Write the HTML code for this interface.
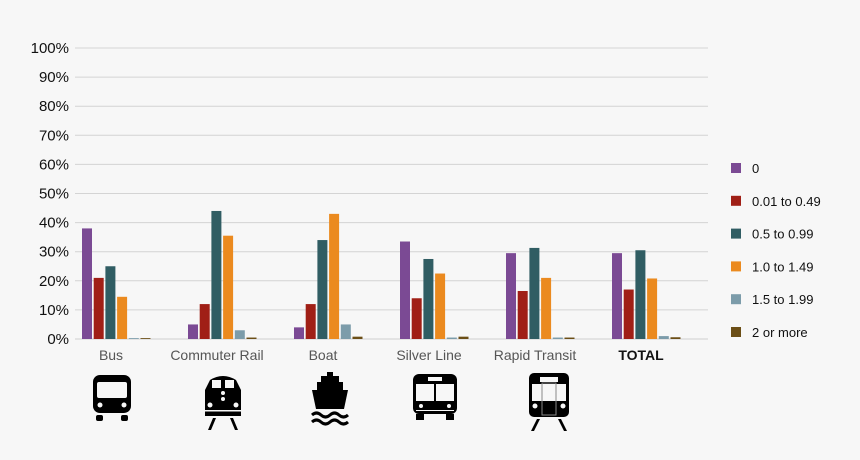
<!DOCTYPE html>
<html><head><meta charset="utf-8"><style>
body{margin:0;background:#f7f7f7;}
svg{display:block;font-family:"Liberation Sans",sans-serif;}
</style></head><body>
<svg id="c" width="860" height="460">
<rect width="860" height="460" fill="#f7f7f7"/>
<g id="grid"></g><g id="bars"></g><g id="labels"></g><g id="legend"></g>
<g fill="#000">
 <g transform="translate(93,375)">
  <rect x="0" y="0" width="38" height="38" rx="7"/><rect x="3" y="40" width="7" height="6" rx="2"/><rect x="28" y="40" width="7" height="6" rx="2"/>
  <rect x="4" y="7" width="30" height="16" rx="2" fill="#f7f7f7"/><circle cx="7" cy="30" r="2.5" fill="#f7f7f7"/><circle cx="31" cy="30" r="2.5" fill="#f7f7f7"/>
 </g>
 <g transform="translate(204,372)">
  <path d="M6 8 Q19 0 32 8 L37 18 L37 44 L1 44 L1 18 Z"/><rect x="8" y="8" width="9" height="8" fill="#f7f7f7"/><rect x="21" y="8" width="9" height="8" fill="#f7f7f7"/>
  <circle cx="19" cy="21" r="2" fill="#f7f7f7"/><circle cx="19" cy="27" r="2" fill="#f7f7f7"/><circle cx="6" cy="33" r="2.5" fill="#f7f7f7"/><circle cx="32" cy="33" r="2.5" fill="#f7f7f7"/>
  <rect x="1" y="38" width="36" height="1.5" fill="#f7f7f7"/><path d="M4 58 L9 46 L12 46 L7 58 Z M34 58 L29 46 L26 46 L31 58 Z"/>
 </g>
 <g transform="translate(311,372)">
  <rect x="16" y="0" width="6" height="4"/><rect x="10" y="4" width="18" height="6"/><rect x="6" y="10" width="26" height="8"/><path d="M1 18 L37 18 L33 37 L5 37 Z"/>
  <path d="M1 43 Q5.5 39 10 43 Q14.5 47 19 43 Q23.5 39 28 43 Q32.5 47 37 43" fill="none" stroke="#000" stroke-width="3"/>
  <path d="M1 50 Q5.5 46 10 50 Q14.5 54 19 50 Q23.5 46 28 50 Q32.5 54 37 50" fill="none" stroke="#000" stroke-width="3"/>
 </g>
 <g transform="translate(413,374)">
  <rect x="0" y="0" width="44" height="40" rx="6"/><rect x="3" y="40" width="8" height="6"/><rect x="33" y="40" width="8" height="6"/>
  <rect x="15" y="3" width="14" height="4" fill="#f7f7f7"/><rect x="3" y="10" width="18" height="17" fill="#f7f7f7"/><rect x="23" y="10" width="18" height="17" fill="#f7f7f7"/>
  <circle cx="8" cy="32" r="2" fill="#f7f7f7"/><circle cx="36" cy="32" r="2" fill="#f7f7f7"/><rect x="3" y="36" width="38" height="1" fill="#f7f7f7"/>
 </g>
 <g transform="translate(529,373)">
  <rect x="0" y="0" width="40" height="44" rx="5"/><rect x="11" y="4" width="18" height="5" fill="#f7f7f7"/><rect x="3" y="11" width="34" height="17" fill="#f7f7f7"/>
  <rect x="13" y="10" width="14" height="32" fill="none" stroke="#888" stroke-width="1"/><circle cx="6" cy="33" r="2.5" fill="#f7f7f7"/><circle cx="34" cy="33" r="2.5" fill="#f7f7f7"/>
  <path d="M2 58 L8 46 L11 46 L5 58 Z M38 58 L32 46 L29 46 L35 58 Z"/>
 </g>
</g>
</svg>
<script>
const categories=["Bus","Commuter Rail","Boat","Silver Line","Rapid Transit","TOTAL"];
const seriesNames=["0","0.01 to 0.49","0.5 to 0.99","1.0 to 1.49","1.5 to 1.99","2 or more"];
const s0=[38,5,4,33.5,29.5,29.5];
const s1=[21,12,12,14,16.5,17];
const s2=[25,44,34,27.5,31.3,30.5];
const s3=[14.5,35.5,43,22.5,21,20.8];
const s4=[0.3,3,5,0.5,0.5,1];
const s5=[0.3,0.5,0.8,0.8,0.5,0.6];
const yTicks=["0%","10%","20%","30%","40%","50%","60%","70%","80%","90%","100%"];
const colors=["#7B4A94","#A01F16","#305D63","#EB8A1F","#7C9CAA","#6B4E16"];
const series=[s0,s1,s2,s3,s4,s5];
const NS="http://www.w3.org/2000/svg";
const y0=339,y100=48,xL=75,xR=708;
const y=v=>y0-(y0-y100)*v/100;
const gx=i=>82+i*106, bx=(i,j)=>gx(i)+j*11.7;
function mk(t,a,p){const e=document.createElementNS(NS,t);for(const k in a)e.setAttribute(k,a[k]);p.appendChild(e);return e;}
const G=document.getElementById('grid'),B=document.getElementById('bars'),L=document.getElementById('labels'),LG=document.getElementById('legend');
yTicks.forEach((t,k)=>{const v=k*10;
 const l=mk('line',{x1:xL,x2:xR,y1:y(v),y2:y(v),stroke:k?'#d4d4d4':'#cfcfcf','stroke-width':1},G);
 
 
 const tx=mk('text',{x:69,y:y(v)+5,'text-anchor':'end','font-size':15,fill:'#111'},G);tx.textContent=t;
 
 
});
series.forEach((s,j)=>s.forEach((v,i)=>{
 const r=mk('rect',{x:bx(i,j),y:y(v),width:10,height:Math.max(0.8,y0-y(v)),fill:colors[j]},B);
 
 
}));
categories.forEach((c,i)=>{
 const t=mk('text',{x:gx(i)+29,y:360,'text-anchor':'middle','font-size':14,fill:i==5?'#111':'#555','font-weight':i==5?'bold':'normal'},L);t.textContent=c;
 
 
});
seriesNames.forEach((n,j)=>{
 const yy=168+j*32.8;
 const g=mk('g',{},LG);
 
 
 mk('rect',{x:731,y:yy-5,width:10,height:10,fill:colors[j]},g);
 const t=mk('text',{x:752,y:yy+5,'font-size':13,fill:'#111'},g);t.textContent=n;
});
</script>
</body></html>
